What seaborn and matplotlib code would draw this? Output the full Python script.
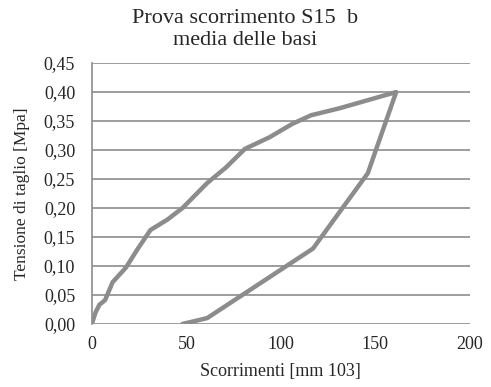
import numpy as np
import pandas as pd
import seaborn as sns
import matplotlib.pyplot as plt
from matplotlib.ticker import FuncFormatter

# scorrimenti [mm 10^3] e tensione di taglio [MPa], carico + scarico
scorr = [0, 2, 4, 7, 11, 18, 24, 31, 40, 48, 61, 71, 81, 94, 106, 116, 131, 161,
         146, 117, 61, 48]
tens = [0.0, 0.02, 0.033, 0.041, 0.072, 0.097, 0.128, 0.162, 0.18, 0.20, 0.243, 0.27,
        0.302, 0.322, 0.345, 0.36, 0.372, 0.40,
        0.26, 0.13, 0.01, 0.0]

df = pd.DataFrame({"s": scorr, "t": tens})

sns.set_style("white")
plt.rcParams['font.family'] = ['Liberation Serif', 'DejaVu Serif']

fig = plt.figure(figsize=(4.91, 3.87), dpi=100)
ax = fig.add_axes([0.187, 0.163, 0.77, 0.674])

sns.lineplot(data=df, x="s", y="t", sort=False, estimator=None, color="#8c8c8c",
             linewidth=3.2, ax=ax, zorder=3)

ax.set_xlim(0, 200)
ax.set_ylim(0, 0.45)
ax.set_xticks([0, 50, 100, 150, 200])
ax.set_yticks(np.arange(0, 0.451, 0.05))
ax.yaxis.set_major_formatter(FuncFormatter(lambda v, p: f"{v:.2f}".replace(".", ",")))
ax.grid(axis="y", color="#8c8c8c", linewidth=1.2)
ax.grid(axis="x", visible=False)
for s in ["top", "right", "bottom"]:
    ax.spines[s].set_visible(False)
ax.spines["left"].set_color("#8c8c8c")
ax.spines["left"].set_linewidth(1.2)
ax.tick_params(length=0, labelsize=13)
ax.tick_params(axis="y", pad=12)
ax.tick_params(axis="x", pad=9)

ax.set_xlabel("Scorrimenti [mm 103]", fontsize=13, labelpad=7)
ax.set_ylabel("Tensione di taglio [Mpa]", fontsize=12.5, labelpad=10)
fig.suptitle("Prova scorrimento S15  b\nmedia delle basi", fontsize=16, x=0.5,
             y=0.978, va="top", linespacing=1.25)

fig.savefig("out.png", dpi=100)
